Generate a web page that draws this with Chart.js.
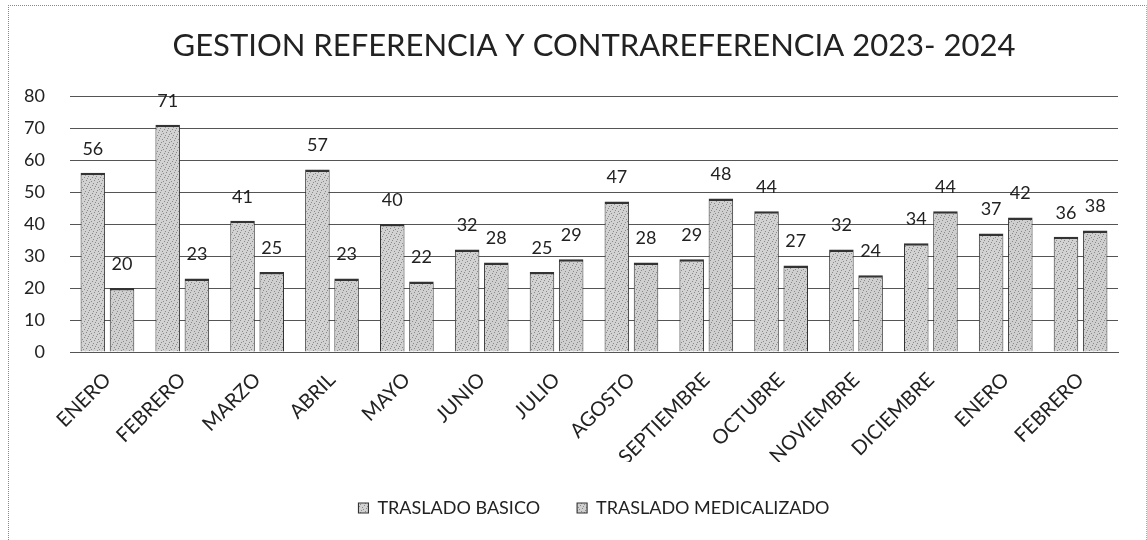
<!DOCTYPE html>
<html>
<head>
<meta charset="utf-8">
<script src="https://cdn.jsdelivr.net/npm/chart.js@4/dist/chart.umd.min.js"></script>
<style>
html,body{margin:0;padding:0;background:#fff;}
#wrap{position:absolute;left:8px;top:5px;width:1139px;height:535px;border-left:1px dotted #888;border-top:1px dotted #888;border-right:1px dotted #aaa;box-sizing:border-box;}
canvas{position:absolute;left:0;top:0;}
</style>
</head>
<body>
<div id="wrap"></div>
<canvas id="c" width="1147" height="540"></canvas>
<script>
const categories = ["ENERO","FEBRERO","MARZO","ABRIL","MAYO","JUNIO","JULIO","AGOSTO","SEPTIEMBRE","OCTUBRE","NOVIEMBRE","DICIEMBRE","ENERO","FEBRERO"];
const trasladoBasico = [56,71,41,57,40,32,25,47,29,44,32,34,37,36];
const trasladoMedicalizado = [20,23,25,23,22,28,29,28,48,27,24,44,42,38];
const seriesNames = ["TRASLADO BASICO","TRASLADO MEDICALIZADO"];
const chartTitle = "GESTION REFERENCIA Y CONTRAREFERENCIA 2023- 2024";

const FONT = 'Lato, "Open Sans", "DejaVu Sans", sans-serif';

function makePattern(base){
  const p = document.createElement('canvas');
  p.width = 8; p.height = 8;
  const g = p.getContext('2d');
  g.fillStyle = base; g.fillRect(0,0,8,8);
  g.fillStyle = '#8a8a8a';
  const dots = [[0,0],[4,1],[2,3],[6,4],[1,6],[5,7],[3,5],[7,2]];
  dots.forEach(d=>g.fillRect(d[0],d[1],1,1));
  return g.createPattern(p,'repeat');
}
const ctx = document.getElementById('c').getContext('2d');
const fill1 = makePattern('#d2d2d2');
const fill2 = makePattern('#cfcfcf');

const valueLabels = {
  id:'valueLabels',
  afterDatasetsDraw(chart){
    const c = chart.ctx;
    c.save();
    c.font = '18px ' + FONT;
    c.fillStyle = '#222';
    c.textAlign = 'center';
    c.textBaseline = 'middle';
    chart.data.datasets.forEach((ds,i)=>{
      chart.getDatasetMeta(i).data.forEach((bar,j)=>{
        c.fillText(ds.data[j], bar.x, bar.y - 24);
      });
    });
    c.restore();
  }
};

new Chart(ctx,{
  type:'bar',
  data:{
    labels:categories,
    datasets:[
      {label:seriesNames[0],data:trasladoBasico,backgroundColor:fill1,borderColor:'#333',borderWidth:{top:2.5,left:1,right:1,bottom:0}},
      {label:seriesNames[1],data:trasladoMedicalizado,backgroundColor:fill2,borderColor:'#333',borderWidth:{top:2.5,left:1,right:1,bottom:0}}
    ]
  },
  options:{
    responsive:false,
    animation:false,
    devicePixelRatio:1,
    layout:{padding:{left:8,right:29,top:0,bottom:13}},
    datasets:{bar:{categoryPercentage:0.78,barPercentage:0.84}},
    plugins:{
      title:{display:true,fullSize:false,text:chartTitle,color:'#222',font:{family:FONT,size:31,weight:'normal'},padding:{top:27,bottom:31.8}},
      legend:{position:'bottom',fullSize:false,labels:{boxWidth:10,boxHeight:10,color:'#222',padding:37,font:{family:FONT,size:18}}},
      tooltip:{enabled:false}
    },
    scales:{
      y:{min:0,max:80,ticks:{stepSize:10,color:'#222',padding:25,font:{family:FONT,size:18}},
         grid:{color:'#555',lineWidth:1,drawTicks:false},border:{display:false},
         afterFit(s){s.width = 62;}},
      x:{ticks:{color:'#222',maxRotation:45,minRotation:45,padding:8,font:{family:FONT,size:20}},
         grid:{display:false},border:{display:true,color:'#555'},
         afterFit(s){s.height = 110;}}
    }
  },
  plugins:[valueLabels]
});
</script>
</body>
</html>
